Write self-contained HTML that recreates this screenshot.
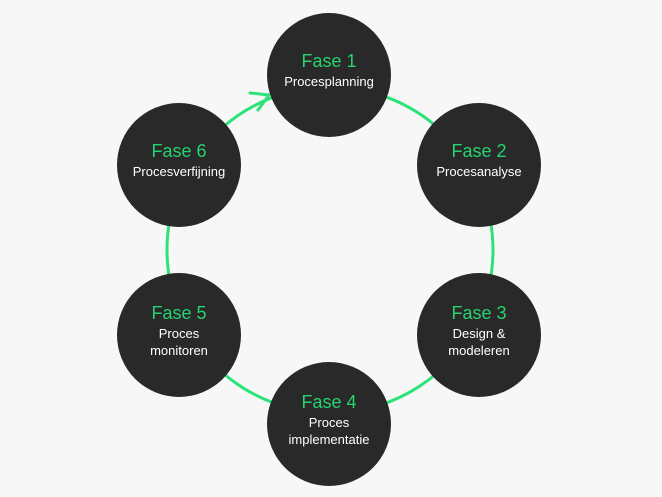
<!DOCTYPE html>
<html><head><style>
html,body{margin:0;padding:0;background:#f7f7f7;}
body{width:662px;height:497px;position:relative;overflow:hidden;font-family:"Liberation Sans",sans-serif;}
.c{position:absolute;width:124px;height:124px;border-radius:50%;background:#292929;color:#fff;text-align:center;display:flex;flex-direction:column;justify-content:center;align-items:center;box-sizing:border-box;padding-bottom:10px;}
.t{color:#25d36f;font-size:18px;line-height:22px;margin-bottom:1px;}
.s{font-size:13px;line-height:17px;}
</style></head><body>
<svg width="662" height="497" style="position:absolute;left:0;top:0">
<circle cx="330" cy="250" r="163" fill="none" stroke="#2ee27a" stroke-width="3"/>
<polyline points="250,93 269,95 258,110" fill="none" stroke="#2ee27a" stroke-width="3" stroke-linecap="round" stroke-linejoin="round"/>
</svg>
<div class="c" style="left:267px;top:13px"><div class="t">Fase 1</div><div class="s">Procesplanning</div></div>
<div class="c" style="left:417px;top:103px"><div class="t">Fase 2</div><div class="s">Procesanalyse</div></div>
<div class="c" style="left:417px;top:273px"><div class="t">Fase 3</div><div class="s">Design &amp;<br>modeleren</div></div>
<div class="c" style="left:267px;top:362px"><div class="t">Fase 4</div><div class="s">Proces<br>implementatie</div></div>
<div class="c" style="left:117px;top:273px"><div class="t">Fase 5</div><div class="s">Proces<br>monitoren</div></div>
<div class="c" style="left:117px;top:103px"><div class="t">Fase 6</div><div class="s">Procesverfijning</div></div>
</body></html>
